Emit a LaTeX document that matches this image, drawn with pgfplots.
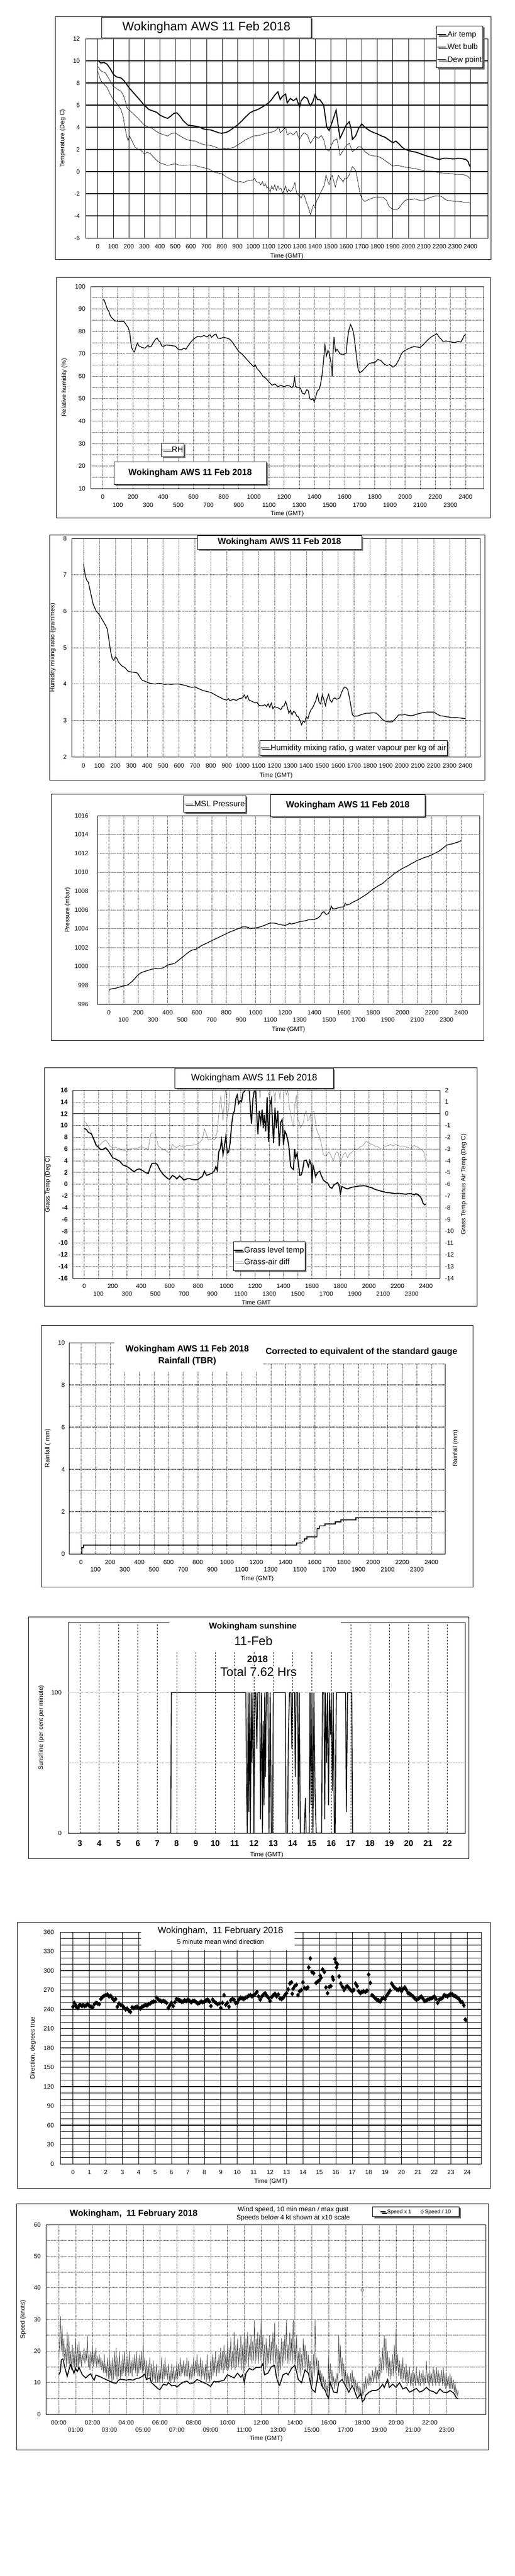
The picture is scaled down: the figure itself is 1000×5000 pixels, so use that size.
\documentclass[border=0pt]{standalone}
\usepackage{fontspec}
\setmainfont{Liberation Sans}
\usepackage{pgfplots}
\pgfplotsset{compat=1.18}
\usetikzlibrary{shadows}
\newcommand{\fs}[1]{\fontsize{#1}{#1}\selectfont}
\tikzset{
  shd/.style={drop shadow={shadow xshift=3pt,shadow yshift=-3pt,fill=black!55,opacity=1}},
  tbox/.style={draw, line width=0.8pt, fill=white, shd, inner sep=0pt},
  frm/.style={draw, line width=0.8pt},
}
\pgfplotsset{
  every axis/.append style={scale only axis, major tick length=0pt, minor tick length=0pt,
    axis line style={line width=0.8pt}, tick label style={font=\fs{12}}, label style={font=\fs{12}},
    /pgf/number format/assume math mode=true, /pgf/number format/1000 sep={}, legend cell align=left},
  dotg/.style={black, line width=0.6pt, dash pattern=on 1pt off 1.2pt},
  lgd/.style={draw=black, line width=0.8pt, fill=white, shd, inner xsep=0pt},
}
\begin{document}
\begin{tikzpicture}
\useasboundingbox (0pt,0pt) rectangle (1000pt,-5000pt);
% frames
\draw[frm] (107.7pt,-32pt) rectangle (953.2pt,-503pt);
\draw[frm] (109pt,-538pt) rectangle (951.9pt,-1005pt);
\draw[frm] (96.2pt,-1038pt) rectangle (941pt,-1514pt);
\draw[frm] (99.4pt,-1541pt) rectangle (939.7pt,-2019pt);
\draw[frm] (86.5pt,-2072pt) rectangle (926.3pt,-2535pt);
\draw[frm] (80.1pt,-2572pt) rectangle (917.9pt,-3080pt);
\draw[frm] (55.8pt,-3138pt) rectangle (910.3pt,-3607pt);
\draw[frm] (33.3pt,-3731pt) rectangle (951.9pt,-4247pt);
\draw[frm] (32.1pt,-4277pt) rectangle (948.7pt,-4755pt);

%================ Panel 1: temperatures
\begin{axis}[at={(166.7pt,-462pt)}, anchor=south west, width=780.7pt, height=387pt,
  xmin=-76.3, xmax=2512.4, ymin=-6, ymax=12,
  xtick={0,100,...,2400}, ytick={-6,-4,...,12},
  xmajorgrids, major grid style={black, line width=0.6pt},
  extra y ticks={-4,-2,...,10}, extra y tick labels={},
  extra y tick style={grid=major, major grid style={black, line width=1.8pt}},
  xticklabel style={yshift=-8.5pt}, yticklabel style={xshift=-8pt},
  xlabel={Time (GMT)}, ylabel={Temperature (Deg C)},
  xlabel style={at={(axis description cs:0.5,-0.0904)}, anchor=center},
  ylabel style={at={(axis description cs:-0.0575,0.5)}, anchor=center},
  legend style={lgd, at={(axis description cs:0.8719,1.0646)}, anchor=north west, font=\fs{15}, inner ysep=8pt, row sep=8pt},
]
\addplot[black, line width=2pt, mark=none] coordinates {
(0,10.05)(20,9.8)(40,9.85)(60,9.7)(80,9.3)(100,8.8)(120,8.55)(150,8.45)(170,8.2)(200,7.6)(250,6.8)(300,6.0)(330,5.6)(350,5.5)(380,5.35)(400,5.1)(430,4.9)(450,4.8)(470,5.0)(490,5.25)(510,5.3)(530,5.0)(550,4.6)(580,4.2)(600,4.15)(630,4.1)(650,4.05)(680,3.85)(700,3.8)(730,3.75)(750,3.65)(780,3.5)(800,3.45)(830,3.55)(850,3.7)(870,3.9)(900,4.2)(930,4.6)(950,4.9)(980,5.3)(1000,5.45)(1030,5.6)(1050,5.75)(1080,6.0)(1100,6.2)(1120,6.5)(1140,6.9)(1160,7.2)(1175,6.5)(1190,6.8)(1210,7.0)(1220,6.2)(1240,6.6)(1260,6.4)(1280,6.6)(1290,6.2)(1300,5.85)(1310,6.4)(1330,6.75)(1350,6.6)(1360,6.2)(1370,5.95)(1385,6.3)(1400,6.95)(1415,6.5)(1430,6.5)(1445,6.2)(1455,6.0)(1465,5.0)(1475,4.0)(1490,3.7)(1505,4.3)(1520,4.9)(1535,5.55)(1545,4.5)(1560,3.0)(1580,3.6)(1600,4.2)(1620,4.5)(1632,3.8)(1640,2.9)(1660,3.2)(1680,3.9)(1700,4.3)(1720,4.0)(1750,3.7)(1780,3.5)(1800,3.4)(1830,3.2)(1850,3.1)(1880,2.8)(1900,2.6)(1920,2.75)(1940,2.5)(1960,2.2)(1980,2.0)(2000,1.9)(2030,1.8)(2050,1.75)(2080,1.6)(2100,1.5)(2130,1.35)(2150,1.3)(2180,1.15)(2200,1.1)(2230,1.2)(2250,1.2)(2280,1.15)(2300,1.15)(2330,1.2)(2350,1.15)(2370,1.1)(2385,0.9)(2395,0.5)(2400,0.5)};
\addlegendentry{Air temp}
\addplot[black, line width=0.7pt, mark=none] coordinates {
(0,9.5)(20,9.1)(50,8.9)(80,8.2)(100,7.7)(130,7.4)(150,7.25)(165,6.9)(175,6.5)(190,5.7)(200,5.6)(230,5.2)(260,4.8)(300,4.2)(330,4.0)(350,3.9)(380,3.6)(400,3.45)(430,3.3)(450,3.2)(470,3.4)(500,3.5)(520,3.3)(550,3.05)(580,2.85)(600,2.8)(630,2.75)(650,2.6)(680,2.45)(700,2.4)(730,2.35)(750,2.25)(780,2.1)(800,2.1)(830,2.05)(850,2.1)(880,2.2)(900,2.4)(930,2.65)(950,2.85)(980,3.05)(1000,3.2)(1030,3.25)(1050,3.3)(1080,3.45)(1100,3.5)(1130,3.6)(1150,3.75)(1165,4.05)(1175,3.5)(1190,3.7)(1210,4.0)(1220,3.3)(1240,3.5)(1260,3.3)(1280,3.65)(1290,3.2)(1300,2.9)(1315,3.3)(1330,3.5)(1350,3.3)(1370,2.55)(1385,2.9)(1400,3.2)(1420,3.0)(1440,3.25)(1455,2.9)(1470,2.0)(1490,1.85)(1505,2.4)(1520,2.8)(1540,2.95)(1550,2.3)(1560,1.45)(1580,1.9)(1600,2.35)(1620,2.55)(1632,2.1)(1640,1.8)(1660,2.0)(1680,2.25)(1700,2.2)(1720,1.8)(1750,1.5)(1780,1.4)(1800,1.4)(1830,1.2)(1850,1.0)(1880,0.7)(1900,0.5)(1930,0.55)(1950,0.5)(1980,0.4)(2000,0.35)(2030,0.3)(2050,0.25)(2080,0.15)(2100,0.05)(2130,0.05)(2150,0.05)(2180,-0.05)(2200,-0.1)(2230,-0.15)(2250,-0.15)(2280,-0.2)(2300,-0.25)(2330,-0.25)(2350,-0.25)(2370,-0.35)(2385,-0.45)(2400,-0.7)};
\addlegendentry{Wet bulb}
\addplot[black, line width=0.7pt, mark=none] coordinates {
(0,9.1)(10,8.6)(20,8.2)(40,7.9)(60,7.6)(80,7.0)(100,6.5)(120,6.2)(150,5.6)(165,4.9)(175,4.0)(185,3.3)(195,2.8)(205,3.2)(220,2.8)(240,2.2)(260,2.0)(280,1.9)(300,1.6)(320,1.75)(340,1.6)(360,1.3)(380,1.0)(400,0.8)(430,0.65)(450,0.55)(480,0.65)(500,0.7)(520,0.6)(550,0.55)(580,0.6)(600,0.6)(630,0.55)(650,0.45)(680,0.35)(700,0.3)(720,0.2)(750,-0.05)(780,-0.15)(800,-0.2)(830,-0.5)(850,-0.65)(870,-0.8)(900,-0.95)(920,-0.9)(940,-1.0)(960,-0.85)(980,-0.8)(1000,-0.75)(1010,-0.6)(1020,-0.9)(1040,-1.0)(1050,-1.2)(1060,-0.9)(1070,-1.3)(1080,-1.1)(1090,-1.5)(1100,-1.35)(1110,-1.9)(1120,-1.3)(1130,-1.6)(1140,-1.2)(1150,-1.7)(1160,-1.3)(1170,-1.6)(1180,-1.5)(1190,-2.0)(1200,-1.7)(1210,-1.3)(1220,-1.9)(1230,-1.6)(1240,-1.8)(1250,-1.7)(1260,-1.4)(1270,-1.0)(1280,-1.9)(1290,-2.1)(1300,-2.2)(1310,-2.4)(1320,-2.0)(1330,-2.15)(1340,-2.6)(1350,-3.0)(1360,-3.4)(1370,-3.9)(1380,-3.4)(1390,-3.0)(1400,-3.3)(1410,-2.6)(1420,-2.4)(1435,-1.9)(1450,-1.5)(1460,-1.2)(1470,-0.3)(1480,-0.8)(1490,-1.2)(1500,-0.5)(1510,-0.35)(1520,-0.9)(1530,-1.4)(1540,-0.8)(1550,-0.35)(1560,-0.6)(1570,-0.7)(1580,-0.95)(1590,-0.6)(1600,-0.7)(1610,-0.5)(1620,-0.3)(1630,0.1)(1640,0.45)(1650,0.3)(1660,0.1)(1670,-0.5)(1680,-1.3)(1690,-2.0)(1700,-2.4)(1710,-2.6)(1720,-2.7)(1740,-2.55)(1760,-2.45)(1780,-2.35)(1800,-2.3)(1820,-2.3)(1840,-2.35)(1860,-2.6)(1870,-3.0)(1880,-3.2)(1900,-3.4)(1920,-3.45)(1940,-3.3)(1960,-2.9)(1980,-2.6)(2000,-2.5)(2020,-2.55)(2040,-2.45)(2060,-2.55)(2080,-2.6)(2100,-2.6)(2120,-2.45)(2140,-2.35)(2160,-2.25)(2180,-2.2)(2200,-2.2)(2220,-2.3)(2240,-2.55)(2260,-2.6)(2280,-2.65)(2300,-2.7)(2320,-2.7)(2340,-2.72)(2360,-2.78)(2380,-2.8)(2400,-2.85)};
\addlegendentry{Dew point}
\end{axis}
\node[tbox, minimum width=407pt, minimum height=40pt, font=\fs{24}] at (400.9pt,-53pt) {Wokingham AWS 11 Feb 2018};

%================ Panel 2: RH
\begin{axis}[at={(176.3pt,-948pt)}, anchor=south west, width=762.8pt, height=392pt,
  xmin=-78.7, xmax=2520, ymin=10, ymax=100,
  xtick={0,200,...,2400}, extra x ticks={100,300,...,2300},
  extra x tick style={grid=major, tick label style={yshift=-16pt}},
  ytick={10,20,...,100}, minor y tick num=1,
  grid=both, major grid style={dotg}, minor grid style={dotg},
  xticklabel style={yshift=-8.5pt}, yticklabel style={xshift=-7pt},
  xlabel={Time (GMT)}, ylabel={Relative humidity (\%)},
  xlabel style={at={(axis description cs:0.5,-0.125)}, anchor=center},
  ylabel style={at={(axis description cs:-0.0673,0.5)}, anchor=center},
  legend style={lgd, at={(axis description cs:0.179,0.2245)}, anchor=north west, font=\fs{15}, inner ysep=5pt},
]
\addplot[black, line width=1.4pt, mark=none] coordinates {
(0,94)(10,94)(20,92)(30,90)(40,89)(50,87)(60,86)(70,85.5)(80,84.6)(100,84.5)(120,84.3)(140,84.4)(150,83.5)(160,82.5)(170,81.5)(180,79)(185,76)(190,73)(200,71.5)(210,70.8)(220,73)(230,74.8)(240,73.5)(260,72.8)(280,72.5)(300,73.8)(310,73)(320,73.2)(340,75.5)(350,76.5)(360,77)(370,75.8)(380,75.3)(390,73.5)(400,73.2)(420,73.9)(440,73.8)(460,73.6)(480,73.4)(500,72)(520,71.8)(540,72.5)(550,72)(570,74)(590,75.8)(610,77)(630,77.8)(650,77.5)(670,78.2)(690,77.5)(710,78.5)(720,77.3)(740,78.6)(750,78.8)(760,77)(780,76.8)(800,77.4)(820,77)(840,76.5)(860,75)(880,73)(900,71)(920,70)(940,68.5)(960,67)(980,65.5)(1000,64.2)(1010,65)(1020,63.5)(1040,62)(1060,60)(1080,59)(1100,57.5)(1120,56)(1140,56.5)(1160,55.3)(1180,56)(1200,55.2)(1220,56)(1240,55.5)(1250,55)(1260,55.5)(1270,59.5)(1275,55.5)(1290,55)(1300,55)(1310,54.5)(1320,52.5)(1335,52)(1350,54)(1360,53.5)(1370,50)(1380,49.5)(1390,50)(1400,48.5)(1410,51)(1420,53.5)(1430,54)(1440,56)(1450,60)(1460,66)(1470,74)(1480,69)(1490,71.5)(1500,70)(1510,66)(1515,64)(1518,60)(1525,72)(1530,77.5)(1540,71)(1550,72)(1570,70)(1590,69.5)(1600,70)(1610,70)(1620,77)(1630,81)(1640,83)(1650,81.5)(1660,79)(1670,74)(1680,68)(1690,63)(1700,61.5)(1720,62.5)(1740,64)(1760,65.5)(1780,66)(1800,66)(1820,67.5)(1840,67)(1860,65.5)(1880,64.8)(1900,65.2)(1920,64)(1940,65)(1960,67.5)(1980,70.5)(2000,71.5)(2020,72.2)(2040,72.8)(2060,73.2)(2080,73)(2100,72.8)(2120,74)(2140,75.5)(2160,76.8)(2180,77.8)(2200,78.5)(2210,79)(2220,78)(2230,77)(2240,76.5)(2250,75.5)(2270,75.7)(2290,75.5)(2310,75.2)(2330,75)(2350,75.5)(2370,75.3)(2380,76.5)(2390,78)(2400,78.5)};
\addlegendentry{RH}
\end{axis}
\node[tbox, minimum width=296pt, minimum height=44pt, font=\bfseries\fs{17}] at (369.2pt,-918pt) {Wokingham AWS 11 Feb 2018};

%================ Panel 3: mixing ratio
\begin{axis}[at={(139.1pt,-1469pt)}, anchor=south west, width=793.6pt, height=424pt,
  xmin=-74.8, xmax=2493.5, ymin=2, ymax=8,
  xtick={0,100,...,2400}, ytick={2,3,...,8},
  grid=major, major grid style={dotg},
  xticklabel style={yshift=-9.5pt}, yticklabel style={xshift=-6pt},
  xlabel={Time (GMT)}, ylabel={Humidity mixing ratio (grammes)},
  xlabel style={at={(axis description cs:0.5,-0.0849)}, anchor=center},
  ylabel style={at={(axis description cs:-0.046,0.5)}, anchor=center},
  legend style={lgd, at={(axis description cs:0.4604,0.0755)}, anchor=north west, font=\fs{15.5}, inner ysep=6pt},
]
\addplot[black, line width=1.4pt, mark=none] coordinates {
(0,7.3)(10,7.0)(20,6.85)(30,6.8)(40,6.6)(50,6.4)(60,6.2)(80,6.0)(100,5.9)(120,5.75)(140,5.6)(150,5.5)(160,5.2)(170,4.9)(180,4.7)(190,4.65)(200,4.75)(210,4.7)(220,4.6)(240,4.5)(260,4.45)(280,4.35)(300,4.33)(320,4.32)(340,4.3)(350,4.22)(360,4.15)(370,4.1)(390,4.07)(410,4.03)(430,4.01)(450,4.0)(470,4.02)(490,4.01)(510,3.99)(530,4.0)(550,3.99)(570,4.0)(600,4.0)(620,3.98)(640,3.96)(660,3.93)(680,3.91)(700,3.92)(720,3.88)(740,3.84)(760,3.81)(780,3.79)(800,3.77)(820,3.72)(840,3.67)(860,3.63)(880,3.58)(900,3.56)(910,3.6)(920,3.54)(940,3.58)(960,3.55)(980,3.6)(1000,3.62)(1010,3.7)(1020,3.6)(1030,3.68)(1040,3.56)(1060,3.52)(1080,3.48)(1090,3.5)(1100,3.42)(1120,3.4)(1140,3.43)(1150,3.38)(1160,3.46)(1170,3.36)(1180,3.48)(1190,3.32)(1200,3.38)(1220,3.35)(1240,3.3)(1250,3.38)(1260,3.4)(1270,3.52)(1280,3.38)(1290,3.2)(1300,3.28)(1310,3.15)(1320,3.25)(1330,3.22)(1340,3.12)(1350,3.1)(1360,3.0)(1370,2.88)(1380,2.98)(1390,2.95)(1400,3.1)(1410,3.05)(1420,3.2)(1430,3.3)(1440,3.35)(1450,3.45)(1460,3.55)(1470,3.72)(1480,3.5)(1490,3.45)(1500,3.7)(1510,3.58)(1520,3.4)(1530,3.6)(1540,3.72)(1550,3.55)(1560,3.5)(1570,3.6)(1580,3.62)(1590,3.58)(1600,3.6)(1610,3.62)(1620,3.75)(1630,3.85)(1640,3.92)(1650,3.9)(1660,3.85)(1670,3.65)(1680,3.4)(1690,3.15)(1700,3.12)(1720,3.12)(1740,3.15)(1760,3.18)(1780,3.2)(1800,3.2)(1820,3.21)(1840,3.2)(1860,3.12)(1880,3.02)(1900,2.97)(1920,2.96)(1940,2.96)(1960,3.05)(1980,3.15)(2000,3.15)(2020,3.16)(2040,3.14)(2060,3.13)(2080,3.15)(2100,3.18)(2120,3.2)(2140,3.22)(2160,3.23)(2180,3.23)(2200,3.23)(2220,3.18)(2240,3.13)(2260,3.12)(2280,3.1)(2300,3.09)(2320,3.08)(2340,3.08)(2360,3.07)(2380,3.06)(2400,3.05)};
\addlegendentry{Humidity mixing ratio, g water vapour per kg of air}
\end{axis}
\node[tbox, minimum width=318.6pt, minimum height=27pt, font=\bfseries\fs{17}] at (542.6pt,-1052.5pt) {Wokingham AWS 11 Feb 2018};

%================ Panel 4: pressure
\begin{axis}[at={(189.1pt,-1949pt)}, anchor=south west, width=742.3pt, height=366pt,
  xmin=-78.6, xmax=2526, ymin=996, ymax=1016,
  xtick={0,200,...,2400}, extra x ticks={100,300,...,2300},
  extra x tick style={grid=major, tick label style={yshift=-14pt}},
  ytick={996,998,...,1016},
  grid=major, major grid style={dotg},
  xticklabel style={yshift=-8.5pt}, yticklabel style={xshift=-14pt},
  xlabel={Time (GMT)}, ylabel={Pressure (mbar)},
  xlabel style={at={(axis description cs:0.5,-0.134)}, anchor=center},
  ylabel style={at={(axis description cs:-0.0777,0.5)}, anchor=center},
  legend style={lgd, at={(axis description cs:0.2254,1.1066)}, anchor=north west, font=\fs{15.5}, inner ysep=8pt},
]
\addplot[black, line width=1.4pt, mark=none] coordinates {
(0,997.45)(10,997.6)(30,997.65)(50,997.7)(70,997.8)(90,997.9)(110,997.95)(130,998.05)(150,998.3)(170,998.6)(190,998.95)(210,999.25)(230,999.4)(250,999.5)(270,999.6)(290,999.7)(310,999.75)(330,999.8)(350,999.8)(370,999.85)(390,1000.05)(410,1000.2)(430,1000.25)(450,1000.35)(470,1000.6)(490,1000.85)(510,1001.1)(530,1001.35)(550,1001.6)(570,1001.75)(590,1001.8)(610,1002.0)(630,1002.2)(650,1002.35)(670,1002.5)(690,1002.65)(710,1002.8)(730,1002.95)(750,1003.1)(770,1003.25)(790,1003.4)(810,1003.55)(830,1003.7)(850,1003.8)(870,1003.95)(890,1004.05)(910,1004.2)(930,1004.2)(950,1004.15)(960,1004.0)(980,1004.05)(1000,1004.1)(1020,1004.15)(1040,1004.25)(1060,1004.35)(1080,1004.5)(1100,1004.6)(1120,1004.6)(1140,1004.55)(1160,1004.45)(1180,1004.4)(1200,1004.35)(1220,1004.45)(1230,1004.6)(1240,1004.5)(1260,1004.55)(1280,1004.65)(1300,1004.75)(1320,1004.8)(1340,1004.85)(1360,1004.95)(1380,1004.95)(1400,1005.0)(1420,1005.1)(1440,1005.35)(1455,1005.75)(1465,1005.8)(1480,1005.5)(1495,1005.6)(1505,1005.9)(1515,1006.4)(1525,1006.1)(1540,1006.1)(1560,1006.2)(1580,1006.3)(1600,1006.3)(1610,1006.7)(1620,1006.5)(1640,1006.6)(1660,1006.8)(1680,1006.95)(1700,1007.1)(1720,1007.3)(1740,1007.5)(1760,1007.7)(1780,1007.95)(1800,1008.2)(1820,1008.4)(1840,1008.6)(1860,1008.75)(1880,1009.0)(1900,1009.3)(1920,1009.5)(1940,1009.8)(1960,1010.0)(1980,1010.2)(2000,1010.4)(2020,1010.55)(2040,1010.7)(2060,1010.9)(2080,1011.05)(2100,1011.25)(2120,1011.35)(2140,1011.5)(2160,1011.6)(2180,1011.7)(2200,1011.85)(2220,1012.0)(2240,1012.15)(2260,1012.35)(2280,1012.6)(2300,1012.85)(2320,1012.95)(2340,1013.0)(2360,1013.1)(2380,1013.2)(2400,1013.35)};
\addlegendentry{MSL Pressure}
\end{axis}
\node[tbox, minimum width=299.4pt, minimum height=43pt, font=\bfseries\fs{17}] at (675.3pt,-1563.5pt) {Wokingham AWS 11 Feb 2018};

%================ Panel 5: grass (right axis first)
\begin{axis}[at={(141pt,-2481pt)}, anchor=south west, width=713.5pt, height=365pt,
  xmin=-81.4, xmax=2499.8, ymin=-14, ymax=2,
  axis y line*=right, axis x line=none, xtick=\empty,
  ytick={-14,-13,...,2}, yticklabel style={xshift=6pt},
  extra y ticks={0}, extra y tick labels={},
  extra y tick style={grid=major, major grid style={black, line width=0.6pt}},
  ylabel={Grass Temp minus Air Temp (Deg C)},
  ylabel style={at={(axis description cs:1.0646,0.5)}, anchor=center},
]
\addplot[black!50, line width=0.7pt, mark=none] coordinates {
(0,-0.65)(15,-0.85)(30,-1.1)(45,-1.5)(60,-2.0)(80,-2.7)(100,-2.75)(115,-2.6)(130,-2.4)(150,-2.25)(165,-2.45)(180,-2.75)(200,-2.9)(220,-2.85)(250,-3.0)(270,-3.1)(300,-3.2)(320,-3.0)(350,-3.0)(370,-2.95)(400,-2.8)(420,-2.9)(440,-3.0)(450,-3.05)(460,-2.2)(470,-1.65)(500,-1.65)(510,-2.2)(520,-2.75)(550,-3.0)(570,-3.1)(590,-3.3)(600,-3.3)(620,-2.6)(635,-2.8)(650,-2.9)(670,-2.7)(700,-2.85)(720,-2.7)(750,-2.7)(780,-2.65)(800,-2.55)(815,-2.4)(830,-2.15)(845,-1.3)(860,-1.8)(870,-2.2)(885,-2.2)(900,-2.15)(920,-2.2)(932,-1.6)(940,-0.75)(950,0.5)(960,1.5)(968,0.3)(975,-0.6)(985,1.0)(995,2.5)(1005,-0.25)(1015,0.5)(1025,2.5)(1040,2.8)(1060,3)(1100,3)(1150,3)(1200,3)(1225,2.5)(1235,1.3)(1245,2.6)(1262,2.5)(1270,2.6)(1290,2.5)(1300,0.9)(1310,2.5)(1325,2.6)(1340,1.0)(1350,2.2)(1360,2.5)(1375,1.3)(1385,2.5)(1400,2.5)(1410,2.2)(1420,1.6)(1430,2.0)(1440,0.6)(1450,0.0)(1460,-0.7)(1470,-1.1)(1480,0.8)(1490,1.5)(1500,-0.5)(1510,-0.7)(1520,-1.2)(1530,-1.0)(1540,-0.75)(1550,0.0)(1560,0.25)(1570,-0.6)(1580,-0.5)(1590,0.0)(1600,-2.25)(1605,0.15)(1615,0.2)(1630,-1.25)(1640,-1.6)(1650,-1.85)(1665,-2.5)(1680,-3.5)(1700,-3.6)(1710,-3.4)(1720,-3.25)(1735,-3.6)(1750,-4.0)(1760,-3.6)(1770,-3.25)(1785,-3.3)(1800,-4.5)(1810,-3.8)(1820,-3.5)(1835,-3.3)(1850,-3.75)(1865,-3.4)(1880,-3.3)(1900,-3.0)(1920,-3.05)(1940,-2.8)(1960,-2.7)(1980,-2.35)(2000,-2.5)(2020,-2.6)(2040,-2.75)(2060,-2.8)(2080,-2.95)(2100,-2.9)(2120,-2.75)(2140,-2.7)(2150,-2.6)(2170,-2.75)(2190,-2.6)(2200,-2.7)(2220,-2.75)(2240,-2.75)(2250,-2.8)(2270,-2.85)(2290,-2.95)(2300,-2.85)(2320,-2.7)(2330,-2.8)(2345,-2.85)(2360,-3.0)(2375,-3.1)(2385,-3.25)(2395,-3.7)(2400,-4.0)};
\end{axis}
\begin{axis}[at={(141pt,-2481pt)}, anchor=south west, width=713.5pt, height=365pt,
  xmin=-81.4, xmax=2499.8, ymin=-16, ymax=16,
  xtick={0,200,...,2400}, extra x ticks={100,300,...,2300},
  extra x tick style={grid=major, tick label style={yshift=-15pt}},
  ytick={-16,-14,...,16},
  grid=major, major grid style={dotg},
  extra y ticks={0}, extra y tick labels={},
  extra y tick style={grid=major, major grid style={black, line width=1.4pt}},
  xticklabel style={yshift=-7.5pt}, yticklabel style={xshift=-6pt, font=\bfseries\fs{12.5}},
  xlabel={Time GMT}, ylabel={Grass Temp (Deg C)},
  xlabel style={at={(axis description cs:0.5,-0.129)}, anchor=center},
  ylabel style={at={(axis description cs:-0.0674,0.5)}, anchor=center},
  legend style={lgd, at={(axis description cs:0.4367,0.1945)}, anchor=north west, font=\fs{15.5}, inner ysep=8pt, row sep=6pt},
]
\addplot[black, line width=2pt, mark=none] coordinates {
(0,9.5)(15,9.3)(30,8.8)(50,8.6)(70,7.5)(85,6.6)(100,6.3)(115,5.9)(130,5.9)(150,6.2)(165,5.8)(180,5.3)(200,4.5)(220,4.3)(250,3.9)(270,3.3)(300,3.0)(320,2.7)(340,2.3)(350,2.1)(370,2.5)(390,2.6)(410,2.3)(430,2.0)(450,1.8)(460,2.6)(475,3.5)(500,3.6)(515,3.3)(530,2.5)(550,1.8)(570,1.3)(590,0.9)(600,0.85)(620,1.5)(640,1.2)(650,0.9)(670,1.4)(690,1.0)(700,0.7)(720,0.9)(740,0.95)(760,0.8)(780,0.75)(800,0.8)(815,1.1)(830,1.3)(845,2.2)(860,1.5)(880,1.7)(900,1.9)(915,2.3)(925,3.0)(935,2.3)(945,5.5)(955,6.0)(965,7.5)(975,5.0)(985,6.5)(995,8.1)(1005,5.3)(1015,5.5)(1025,7.0)(1035,10.0)(1045,11.8)(1055,12.5)(1065,14.5)(1075,15.2)(1085,13.7)(1095,14.2)(1105,14.0)(1115,15.5)(1125,15.8)(1135,16.0)(1150,16.0)(1160,15.9)(1168,12.5)(1175,10.3)(1185,14.5)(1195,15.9)(1205,15.9)(1212,12.0)(1220,8.5)(1230,12.5)(1240,10.5)(1250,12.7)(1258,9.5)(1265,11.8)(1275,9.0)(1285,14.8)(1295,7.2)(1305,13.5)(1315,14.5)(1322,11.0)(1330,7.0)(1340,13.0)(1350,9.5)(1360,12.5)(1370,6.5)(1380,10.5)(1390,11.0)(1400,6.7)(1410,9.0)(1420,8.5)(1430,7.5)(1440,6.0)(1450,3.0)(1460,2.7)(1470,2.5)(1478,6.0)(1485,4.5)(1495,5.2)(1505,3.5)(1515,1.5)(1525,1.6)(1535,2.5)(1545,4.0)(1560,4.1)(1575,3.0)(1585,4.0)(1595,3.2)(1600,0.2)(1607,3.2)(1615,2.5)(1625,1.3)(1640,2.0)(1655,2.2)(1665,1.5)(1680,0.7)(1700,0.3)(1710,0.2)(1725,-0.5)(1740,-0.7)(1755,-0.1)(1770,0.1)(1780,0.3)(1790,-0.2)(1800,-1.6)(1810,-0.4)(1820,-0.5)(1835,-0.7)(1850,-0.8)(1870,-0.6)(1885,-0.5)(1900,-0.45)(1920,-0.35)(1940,-0.3)(1960,-0.25)(1980,-0.3)(2000,-0.5)(2020,-0.6)(2040,-0.85)(2060,-1.0)(2080,-1.15)(2100,-1.25)(2120,-1.4)(2140,-1.45)(2160,-1.5)(2180,-1.6)(2200,-1.55)(2220,-1.6)(2240,-1.65)(2260,-1.7)(2280,-1.6)(2300,-1.65)(2320,-1.8)(2330,-1.6)(2345,-1.8)(2360,-2.1)(2370,-2.5)(2380,-3.2)(2390,-3.5)(2400,-3.4)};
\addlegendentry{Grass level temp}
\addlegendimage{black!50, line width=0.7pt}
\addlegendentry{Grass-air diff}
\end{axis}
\node[tbox, minimum width=307.7pt, minimum height=39pt, font=\fs{18}] at (493.5pt,-2092.5pt) {Wokingham AWS 11 Feb 2018};

%================ Panel 6: rainfall
\begin{axis}[at={(134.6pt,-3016pt)}, anchor=south west, width=729.5pt, height=410pt,
  xmin=-79.3, xmax=2492.7, ymin=0, ymax=10,
  xtick={0,200,...,2400}, extra x ticks={100,300,...,2300},
  extra x tick style={grid=major, tick label style={yshift=-14pt}},
  ytick={0,2,...,10}, minor y tick num=1,
  xmajorgrids, yminorgrids, major grid style={dotg}, minor grid style={dotg},
  extra y ticks={2,4,6,8}, extra y tick labels={},
  extra y tick style={grid=major, major grid style={black, line width=1.8pt}},
  xticklabel style={yshift=-8.5pt}, yticklabel style={xshift=-5pt},
  xlabel={Time (GMT)}, ylabel={Rainfall ( mm)},
  xlabel style={at={(axis description cs:0.5,-0.117)}, anchor=center},
  ylabel style={at={(axis description cs:-0.0572,0.5)}, anchor=center},
]
\addplot[black, line width=1.8pt, mark=none, const plot] coordinates {
(0,0)(7,0.3)(16,0.42)(1476,0.52)(1514,0.6)(1530,0.7)(1548,0.81)(1616,1.2)(1632,1.33)(1672,1.42)(1740,1.52)(1781,1.62)(1882,1.71)(2400,1.71)};
\end{axis}
\fill[white] (222.4pt,-2603pt) rectangle (509.6pt,-2662pt);
\fill[white] (509.6pt,-2603pt) rectangle (866pt,-2647pt);
\node[font=\bfseries\fs{17}] at (363.5pt,-2619pt) {Wokingham AWS 11 Feb 2018};
\node[font=\bfseries\fs{17}] at (363.5pt,-2642pt) {Rainfall (TBR)};
\node[font=\bfseries\fs{17}] at (701.9pt,-2624pt) {Corrected to equivalent of the standard gauge};
\node[rotate=90, font=\fs{12}] at (884.6pt,-2811pt) {Rainfall (mm)};

%================ Panel 7: sunshine
\begin{axis}[at={(132.1pt,-3558pt)}, anchor=south west, width=771.7pt, height=409pt,
  xmin=2.388, xmax=22.937, ymin=0, ymax=150,
  xtick={3,4,...,22}, ytick={0,100},
  xmajorgrids, major grid style={black, line width=0.6pt, dash pattern=on 3pt off 3pt},
  extra y ticks={50,100}, extra y tick labels={},
  extra y tick style={grid=major, major grid style={black!45, line width=0.6pt, dash pattern=on 1pt off 1.5pt}},
  xticklabel style={yshift=-11pt, font=\bfseries\fs{16}}, yticklabel style={xshift=-9pt},
  xlabel={Time (GMT)}, ylabel={Sunshine (per cent per minute)},
  xlabel style={at={(axis description cs:0.5,-0.103)}, anchor=center},
  ylabel style={at={(axis description cs:-0.0674,0.5)}, anchor=center},
]
\addplot[black, line width=1.6pt, mark=none] coordinates {
(3,0)(7.70,0)(7.73,100)(11.58,100)(11.62,30)(11.66,0)(11.70,100)(11.74,15)(11.78,100)(11.82,0)(11.86,100)(11.90,50)(11.95,100)(12.0,0)(12.05,100)(12.10,100)(12.15,60)(12.2,100)(12.3,100)(12.34,10)(12.40,100)(12.44,0)(12.48,80)(12.52,20)(12.56,100)(12.6,40)(12.64,100)(12.72,100)(12.78,0)(12.84,100)(12.9,0)(12.97,0)(13.0,100)(13.62,100)(13.66,0)(13.74,0)(13.78,70)(13.84,100)(13.92,100)(13.96,60)(14.0,100)(14.1,100)(14.14,40)(14.18,100)(14.26,100)(14.3,10)(14.34,100)(14.4,0)(14.48,0)(14.6,0)(14.66,25)(14.7,0)(14.86,0)(14.9,100)(14.95,20)(15.0,100)(15.05,0)(15.1,100)(15.16,30)(15.22,0)(15.5,0)(15.54,100)(15.62,100)(15.66,10)(15.7,100)(15.76,50)(15.8,100)(15.86,20)(15.9,100)(15.96,70)(16.0,100)(16.06,30)(16.1,100)(16.16,0)(16.2,0)(16.26,100)(16.74,100)(16.78,15)(16.84,100)(17.06,100)(17.1,0)(22,0)};
\end{axis}
\fill[white] (328.8pt,-3146pt) rectangle (661.5pt,-3205pt);
\node[font=\bfseries\fs{16.5}] at (491pt,-3157pt) {Wokingham sunshine};
\node[font=\fs{24}] at (492pt,-3185pt) {11-Feb};
\node[font=\bfseries\fs{18}, fill=white, inner sep=1pt] at (500pt,-3220pt) {2018};
\node[font=\fs{24}, fill=white, inner sep=1pt] at (502pt,-3245pt) {Total 7.62 Hrs};

%================ Panel 8: wind direction
\begin{axis}[at={(117.3pt,-4200pt)}, anchor=south west, width=816.7pt, height=450pt,
  xmin=-0.765, xmax=24.84, ymin=0, ymax=360,
  xtick={0,1,...,24}, ytick={0,30,...,360}, minor y tick num=2,
  grid=both, major grid style={black, line width=0.6pt}, minor grid style={black, line width=0.6pt},
  extra y ticks={30,60,...,330}, extra y tick labels={},
  extra y tick style={grid=major, major grid style={black, line width=1.8pt}},
  xticklabel style={yshift=-8.5pt}, yticklabel style={xshift=-9pt},
  xlabel={Time (GMT)}, ylabel={Direction, degrees true},
  xlabel style={at={(axis description cs:0.5,-0.0756)}, anchor=center},
  ylabel style={at={(axis description cs:-0.0651,0.5)}, anchor=center},
]
\addplot[only marks, mark=diamond*, mark size=4.5pt, black] coordinates {
(0.0,244)(0.08,250)(0.15,247)(0.22,243)(0.3,242)(0.38,246)(0.45,247)(0.55,245)(0.62,247)(0.7,245)(0.8,246)(0.9,248)(1.0,245)(1.1,244)(1.2,243)(1.3,248)(1.4,250)(1.5,249)(1.6,248)(1.7,256)(1.8,259)(1.9,261)(2.0,262)(2.1,263)(2.2,260)(2.3,261)(2.4,257)(2.5,254)(2.6,256)(2.7,244)(2.8,249)(2.9,247)(3.0,246)(3.1,243)(3.2,240)(3.3,241)(3.4,238)(3.5,236)(3.6,243)(3.7,242)(3.8,243)(3.9,244)(4.0,242)(4.1,241)(4.2,244)(4.3,245)(4.4,247)(4.5,246)(4.6,248)(4.7,249)(4.8,251)(4.9,252)(5.0,252)(5.1,258)(5.2,255)(5.3,254)(5.4,252)(5.5,253)(5.6,252)(5.7,250)(5.8,242)(5.9,246)(6.0,250)(6.1,245)(6.2,251)(6.3,256)(6.4,255)(6.5,254)(6.6,252)(6.7,252)(6.8,254)(6.9,253)(7.0,255)(7.1,253)(7.2,251)(7.3,253)(7.4,253)(7.5,251)(7.6,249)(7.7,250)(7.8,252)(7.9,251)(8.0,252)(8.1,254)(8.2,255)(8.3,252)(8.4,245)(8.5,255)(8.6,252)(8.7,250)(8.8,248)(8.9,249)(9.0,242)(9.1,250)(9.2,262)(9.3,247)(9.4,250)(9.5,244)(9.6,254)(9.7,256)(9.8,255)(9.9,250)(10.0,250)(10.1,255)(10.2,258)(10.3,257)(10.4,256)(10.5,258)(10.6,259)(10.7,261)(10.8,262)(10.9,260)(11.0,262)(11.1,264)(11.2,267)(11.3,260)(11.4,255)(11.5,260)(11.6,263)(11.7,265)(11.8,261)(11.9,258)(12.0,253)(12.1,259)(12.2,262)(12.3,264)(12.4,260)(12.5,263)(12.6,257)(12.7,256)(12.8,258)(12.9,262)(13.0,265)(13.1,271)(13.2,280)(13.3,282)(13.35,264)(13.4,272)(13.5,276)(13.6,278)(13.7,262)(13.8,268)(13.9,270)(14.0,282)(14.1,273)(14.2,272)(14.3,274)(14.35,305)(14.45,319)(14.55,298)(14.65,296)(14.8,281)(14.9,283)(15.0,285)(15.05,292)(15.1,289)(15.2,302)(15.3,298)(15.4,274)(15.5,265)(15.6,275)(15.7,276)(15.8,290)(15.85,286)(15.95,318)(16.0,313)(16.05,305)(16.1,310)(16.2,291)(16.3,280)(16.4,275)(16.5,270)(16.6,274)(16.7,276)(16.8,273)(16.9,270)(17.0,268)(17.1,270)(17.2,280)(17.3,276)(17.4,268)(17.5,265)(17.6,267)(17.7,268)(17.8,267)(17.9,269)(18.0,294)(18.1,281)(18.2,262)(18.3,260)(18.4,257)(18.5,255)(18.6,254)(18.7,252)(18.8,256)(18.9,258)(19.0,256)(19.1,261)(19.2,265)(19.3,269)(19.4,280)(19.5,276)(19.6,273)(19.7,271)(19.8,270)(19.9,272)(20.0,268)(20.1,272)(20.2,274)(20.3,270)(20.4,265)(20.5,264)(20.6,262)(20.7,260)(20.8,257)(20.9,255)(21.0,256)(21.1,258)(21.2,260)(21.3,257)(21.4,253)(21.5,254)(21.6,255)(21.7,256)(21.8,257)(21.9,258)(22.0,260)(22.1,256)(22.2,250)(22.3,255)(22.4,256)(22.5,258)(22.6,262)(22.7,261)(22.8,260)(22.9,262)(23.0,264)(23.1,263)(23.2,261)(23.3,260)(23.4,258)(23.5,256)(23.6,252)(23.7,251)(23.8,246)(23.88,224)(23.92,223)};
\end{axis}
\fill[white] (274.4pt,-3736pt) rectangle (572.4pt,-3785pt);
\node[font=\fs{17.5}] at (428.2pt,-3748pt) {Wokingham,\ \ 11 February 2018};
\node[font=\fs{13}] at (428.2pt,-3769pt) {5 minute mean wind direction};

%================ Panel 9: wind speed
\begin{axis}[at={(89.7pt,-4686pt)}, anchor=south west, width=853.9pt, height=368pt,
  xmin=-0.745, xmax=25.33, ymin=0, ymax=60,
  xtick={0,2,...,22}, xticklabels={00:00,02:00,04:00,06:00,08:00,10:00,12:00,14:00,16:00,18:00,20:00,22:00},
  extra x ticks={1,3,...,23}, extra x tick labels={01:00,03:00,05:00,07:00,09:00,11:00,13:00,15:00,17:00,19:00,21:00,23:00},
  extra x tick style={grid=major, tick label style={yshift=-14pt}},
  ytick={0,10,...,60}, minor y tick num=1,
  grid=both, major grid style={dotg}, minor grid style={dotg},
  xticklabel style={yshift=-8.5pt}, yticklabel style={xshift=-7pt},
  xlabel={Time (GMT)}, ylabel={Speed (knots)},
  xlabel style={at={(axis description cs:0.5,-0.128)}, anchor=center},
  ylabel style={at={(axis description cs:-0.0525,0.5)}, anchor=center},
  legend columns=2,
  legend style={lgd, at={(axis description cs:0.7418,1.0951)}, anchor=north west, font=\fs{10.5}, inner xsep=14pt, inner ysep=3pt, /tikz/every even column/.append style={column sep=16pt}},
]
\addplot[black!68, line width=0.85pt, mark=none, forget plot] coordinates {
(0.00,18)(0.05,22)(0.1,31)(0.15,20)(0.2,28)(0.25,18)(0.3,24)(0.35,17)(0.4,21)(0.45,15)(0.5,26)(0.55,16)(0.6,25)(0.65,15)(0.7,20)(0.75,14)(0.8,22)(0.85,15)(0.9,21)(0.95,14)(1.0,24)(1.05,15)(1.1,22)(1.15,14)(1.2,23)(1.25,16)(1.3,20)(1.35,15)(1.4,19)(1.45,17)(1.5,21)(1.55,16)(1.6,20)(1.65,17)(1.7,25)(1.75,15)(1.8,19)(1.85,14)(1.9,20)(1.95,16)(2.0,22)(2.05,15)(2.1,20)(2.15,16)(2.2,21)(2.25,15)(2.3,18)(2.35,16)(2.4,19)(2.45,15)(2.5,18)(2.55,14)(2.6,17)(2.65,13)(2.7,19)(2.75,13)(2.8,16)(2.85,12)(2.9,18)(2.95,11)(3.0,19)(3.05,12)(3.1,17)(3.15,10)(3.2,18)(3.25,11)(3.3,20)(3.35,12)(3.4,21)(3.45,11)(3.5,18)(3.55,12)(3.6,20)(3.65,11)(3.7,17)(3.75,12)(3.8,19)(3.85,13)(3.9,20)(3.95,12)(4.0,18)(4.05,13)(4.1,19)(4.15,12)(4.2,20)(4.25,13)(4.3,17)(4.35,12)(4.4,18)(4.45,14)(4.5,19)(4.55,13)(4.6,20)(4.65,12)(4.7,18)(4.75,13)(4.8,19)(4.85,14)(4.9,20)(4.95,13)(5.0,22)(5.05,14)(5.1,18)(5.15,12)(5.2,17)(5.25,11)(5.3,16)(5.35,12)(5.4,18)(5.45,11)(5.5,16)(5.55,10)(5.6,17)(5.65,11)(5.7,15)(5.75,10)(5.8,16)(5.85,10)(5.9,14)(5.95,10)(6.0,15)(6.05,11)(6.1,18)(6.15,10)(6.2,16)(6.25,11)(6.3,18)(6.35,12)(6.4,15)(6.45,11)(6.5,16)(6.55,10)(6.6,14)(6.65,10)(6.7,16)(6.75,11)(6.8,15)(6.85,10)(6.9,14)(6.95,11)(7.0,17)(7.05,11)(7.1,16)(7.15,12)(7.2,18)(7.25,12)(7.3,16)(7.35,13)(7.4,17)(7.45,12)(7.5,16)(7.55,12)(7.6,18)(7.65,12)(7.7,17)(7.75,11)(7.8,15)(7.85,11)(7.9,16)(7.95,12)(8.0,18)(8.05,12)(8.1,17)(8.15,13)(8.2,19)(8.25,12)(8.3,16)(8.35,12)(8.4,18)(8.45,11)(8.5,17)(8.55,12)(8.6,15)(8.65,11)(8.7,16)(8.75,10)(8.8,19)(8.85,11)(8.9,14)(8.95,10)(9.0,17)(9.05,11)(9.1,19)(9.15,12)(9.2,18)(9.25,13)(9.3,20)(9.35,12)(9.4,17)(9.45,13)(9.5,19)(9.55,13)(9.6,21)(9.65,14)(9.7,20)(9.75,13)(9.8,22)(9.85,14)(9.9,19)(9.95,14)(10.0,23)(10.05,14)(10.1,21)(10.15,15)(10.2,24)(10.25,14)(10.3,20)(10.35,15)(10.4,26)(10.45,14)(10.5,22)(10.55,15)(10.6,24)(10.65,15)(10.7,21)(10.75,16)(10.8,25)(10.85,14)(10.9,22)(10.95,13)(11.0,26)(11.05,15)(11.1,24)(11.15,16)(11.2,26)(11.25,15)(11.3,22)(11.35,17)(11.4,25)(11.45,16)(11.5,23)(11.55,17)(11.6,30)(11.65,16)(11.7,24)(11.75,17)(11.8,26)(11.85,16)(11.9,25)(11.95,17)(12.0,30)(12.05,18)(12.1,25)(12.15,15)(12.2,22)(12.25,14)(12.3,24)(12.35,15)(12.4,21)(12.45,16)(12.5,25)(12.55,16)(12.6,23)(12.65,17)(12.7,26)(12.75,15)(12.8,29)(12.85,16)(12.9,22)(12.95,13)(13.0,21)(13.05,12)(13.1,20)(13.15,14)(13.2,24)(13.25,15)(13.3,23)(13.35,16)(13.4,25)(13.45,17)(13.5,30)(13.55,16)(13.6,22)(13.65,16)(13.7,26)(13.75,17)(13.8,24)(13.85,16)(13.9,30)(13.95,17)(14.0,23)(14.05,16)(14.1,25)(14.15,14)(14.2,20)(14.25,13)(14.3,21)(14.35,12)(14.4,19)(14.45,14)(14.5,24)(14.55,15)(14.6,22)(14.65,14)(14.7,20)(14.75,13)(14.8,19)(14.85,12)(14.9,17)(14.95,10)(15.0,14)(15.05,9)(15.1,19)(15.15,12)(15.2,30)(15.25,14)(15.3,18)(15.35,10)(15.4,17)(15.45,11)(15.5,14)(15.55,9)(15.6,13)(15.65,8)(15.7,12)(15.75,8)(15.8,11)(15.85,7)(15.9,9)(15.95,6)(16.0,19)(16.05,9)(16.1,16)(16.15,10)(16.2,14)(16.25,9)(16.3,12)(16.35,8)(16.4,11)(16.45,9)(16.5,13)(16.55,10)(16.6,25)(16.65,13)(16.7,22)(16.75,12)(16.8,18)(16.85,11)(16.9,16)(16.95,10)(17.0,14)(17.05,9)(17.1,13)(17.15,8)(17.2,12)(17.25,8)(17.3,13)(17.35,9)(17.4,14)(17.45,9)(17.5,12)(17.55,7)(17.6,11)(17.65,7)(17.7,10)(17.75,6)(17.8,9)(17.85,6)(17.9,8)(17.95,5)(18.0,8)(18.05,6)(18.1,10)(18.15,7)(18.2,12)(18.25,8)(18.3,11)(18.35,9)(18.4,13)(18.45,9)(18.5,12)(18.55,10)(18.6,14)(18.65,10)(18.7,13)(18.75,11)(18.8,15)(18.85,10)(18.9,14)(18.95,11)(19.0,16)(19.05,12)(19.1,18)(19.15,13)(19.2,21)(19.25,14)(19.3,25)(19.35,15)(19.4,24)(19.45,13)(19.5,20)(19.55,12)(19.6,18)(19.65,11)(19.7,17)(19.75,12)(19.8,19)(19.85,12)(19.9,22)(19.95,13)(20.0,27)(20.05,14)(20.1,19)(20.15,12)(20.2,17)(20.25,11)(20.3,16)(20.35,10)(20.4,18)(20.45,11)(20.5,15)(20.55,10)(20.6,16)(20.65,9)(20.7,14)(20.75,10)(20.8,15)(20.85,9)(20.9,13)(20.95,9)(21.0,14)(21.05,10)(21.1,13)(21.15,9)(21.2,15)(21.25,10)(21.3,12)(21.35,9)(21.4,14)(21.45,9)(21.5,13)(21.55,10)(21.6,14)(21.65,9)(21.7,12)(21.75,10)(21.8,17)(21.85,10)(21.9,13)(21.95,9)(22.0,14)(22.05,10)(22.1,13)(22.15,9)(22.2,15)(22.25,10)(22.3,14)(22.35,9)(22.4,15)(22.45,10)(22.5,14)(22.55,9)(22.6,13)(22.65,10)(22.7,14)(22.75,9)(22.8,15)(22.85,9)(22.9,13)(22.95,8)(23.0,13)(23.05,9)(23.1,12)(23.15,8)(23.2,13)(23.25,8)(23.3,12)(23.35,8)(23.4,11)(23.45,7)(23.5,10)(23.55,6)(23.6,8)(23.65,6)(23.7,7.5)};
\addplot[black, line width=1.8pt, mark=none, legend image code/.code={\draw[black, line width=2pt] (0pt,0pt) -- (10pt,0pt);}] coordinates {
(0,12.5)(0.1,13.5)(0.15,17.2)(0.25,17.5)(0.35,15)(0.5,12)(0.6,14)(0.7,15.7)(0.8,14.5)(0.9,13)(1.0,14.5)(1.1,13.5)(1.2,14.8)(1.4,12.5)(1.5,12)(1.6,11.5)(1.8,12.5)(1.9,12.8)(2.0,11.5)(2.1,10.8)(2.2,12.4)(2.4,12)(2.6,11.5)(2.8,11)(3.0,10.5)(3.2,10)(3.4,9.8)(3.5,10.5)(3.6,11)(3.8,11)(4.0,10.8)(4.2,11)(4.4,10.8)(4.6,11.3)(4.8,11.5)(5.0,12.2)(5.1,12.7)(5.2,11)(5.4,11.5)(5.5,10)(5.7,9)(5.9,8)(6.0,7.8)(6.2,9.5)(6.4,9.2)(6.5,10)(6.7,9)(6.9,9.2)(7.0,8.6)(7.2,9.5)(7.4,10.2)(7.6,10.5)(7.8,9.6)(8.0,10)(8.2,11)(8.4,10.5)(8.6,10)(8.8,9.5)(9.0,8.8)(9.2,10.4)(9.4,10.3)(9.6,10.5)(9.8,10.8)(10.0,12.5)(10.2,12)(10.4,11.5)(10.6,13)(10.8,11.7)(10.9,12.5)(11.0,10)(11.1,13)(11.3,14.5)(11.5,14)(11.7,14.8)(11.9,14.8)(12.0,15)(12.1,16)(12.2,12.5)(12.4,13)(12.6,15)(12.8,15.5)(12.9,12)(13.0,10)(13.1,9.2)(13.3,12.5)(13.5,13)(13.6,12.5)(13.8,14.5)(14.0,15.5)(14.1,13.5)(14.2,11)(14.4,10)(14.6,14)(14.8,13)(15.0,8)(15.2,7)(15.4,13.5)(15.5,11)(15.6,9)(15.8,7.5)(15.9,6)(16.0,5)(16.1,10)(16.3,7)(16.5,6.8)(16.6,10)(16.8,11)(16.9,10)(17.0,9)(17.2,7)(17.4,9)(17.5,8)(17.7,5)(17.9,6.5)(18.0,4)(18.1,4.5)(18.2,6)(18.4,7)(18.6,7.5)(18.8,7.5)(19.0,8)(19.2,9.5)(19.3,8.5)(19.5,11)(19.6,8.5)(19.8,9.5)(20.0,8.5)(20.2,10)(20.4,8)(20.6,8.5)(20.8,7)(21.0,7.5)(21.2,8.2)(21.4,7)(21.6,7.5)(21.8,8.5)(22.0,7.5)(22.2,7.2)(22.4,6.5)(22.6,8)(22.8,7)(23.0,6.8)(23.2,7.5)(23.4,6.8)(23.6,5)(23.7,5)};
\addlegendentry{Speed x 1}
\addplot[only marks, mark=diamond*, mark size=4pt, mark options={fill=black!20, draw=black!60, line width=0.6pt}] coordinates {(18.0,39.3)};
\addlegendentry{Speed / 10}
\end{axis}
\node[font=\bfseries\fs{17}] at (259.6pt,-4297pt) {Wokingham,\ \ 11 February 2018};
\node[font=\fs{13}] at (569.2pt,-4289pt) {Wind speed, 10 min mean / max gust};
\node[font=\fs{13}] at (569.2pt,-4305pt) {Speeds below 4 kt shown at x10 scale};
\end{tikzpicture}
\end{document}
